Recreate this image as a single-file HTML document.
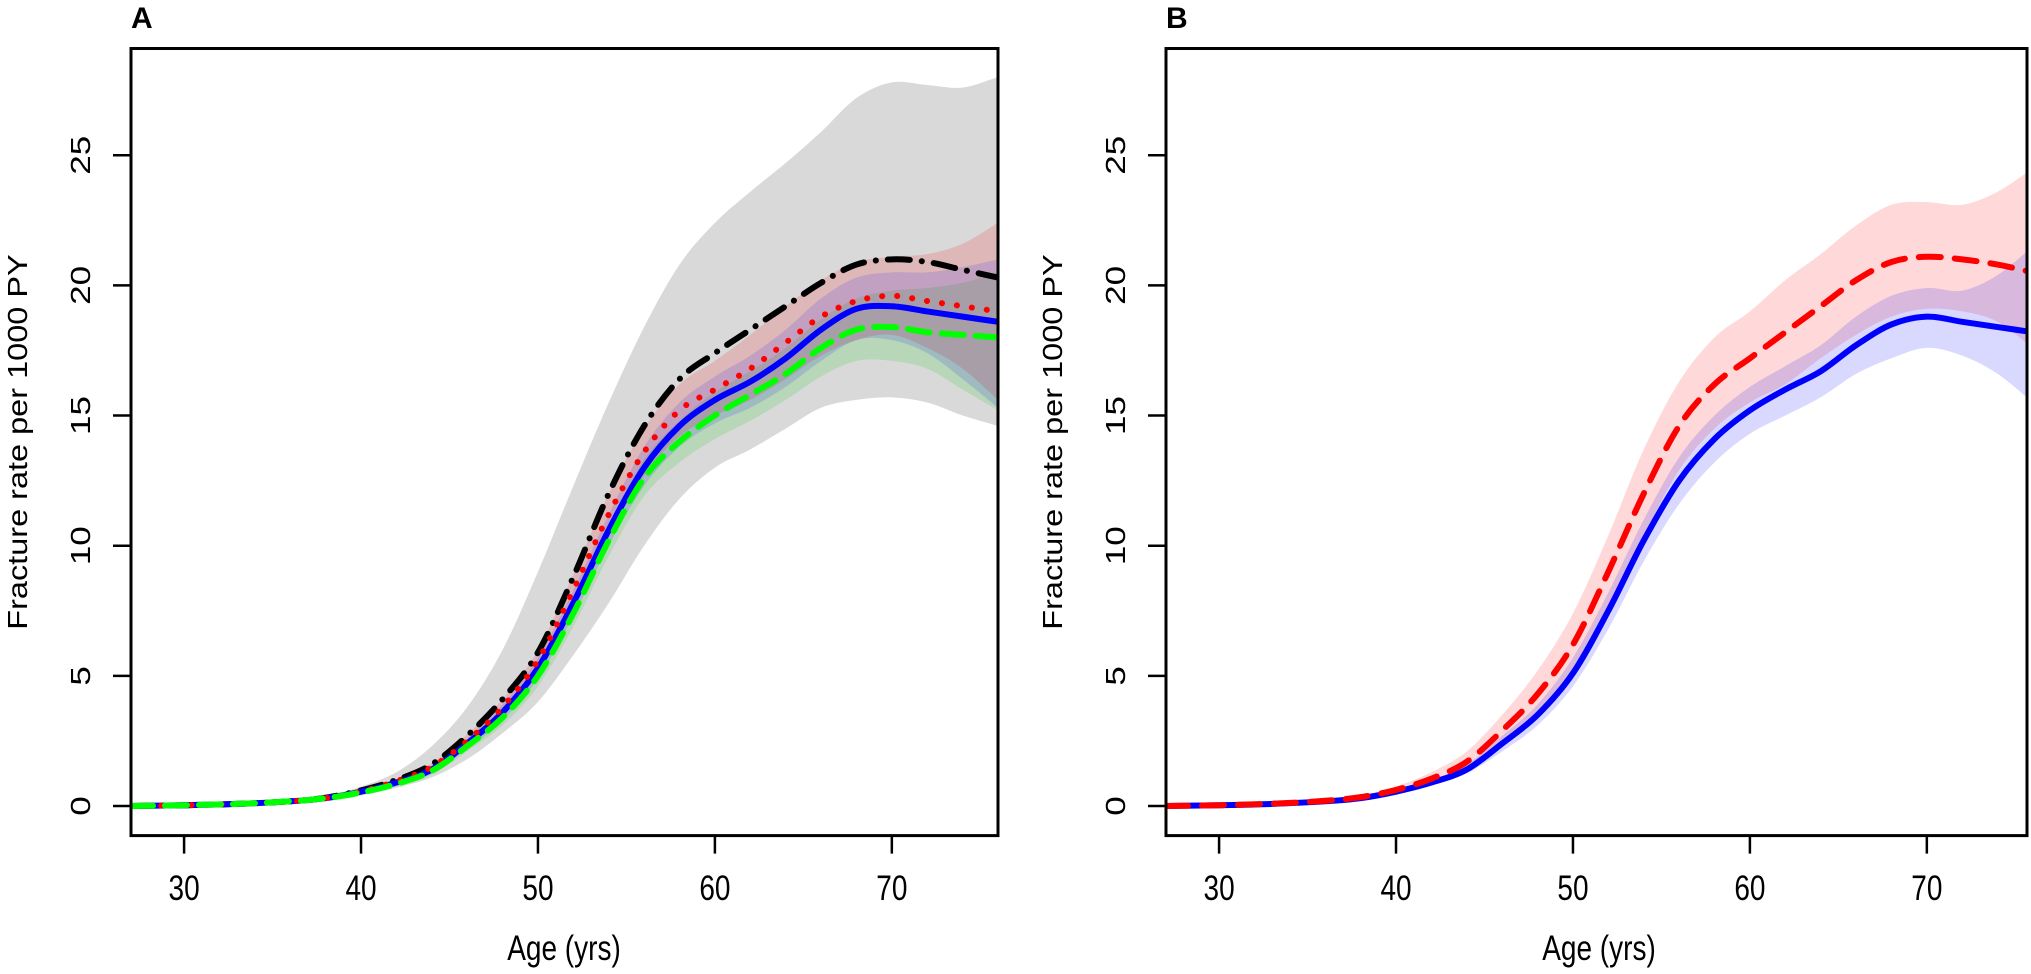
<!DOCTYPE html>
<html><head><meta charset="utf-8"><style>
html,body{margin:0;padding:0;background:#fff;}
svg{display:block;font-family:"Liberation Sans",Arial,sans-serif;}
</style></head><body>
<svg id="chart" width="2031" height="974" viewBox="0 0 2031 974" xmlns="http://www.w3.org/2000/svg"></svg>
<script>
const ages = [27,30,33,36,38,40,42,44,46,48,50,52,54,56,58,60,62,64,66,68,70,72,74,76];
const xTicks = [30,40,50,60,70];
const yTicks = [0,5,10,15,20,25];
// Panel A
const aBlue  = [0,0.03,0.08,0.18,0.3,0.55,0.9,1.4,2.4,3.6,5.3,7.8,10.6,13.0,14.6,15.6,16.3,17.2,18.3,19.1,19.2,19.0,18.8,18.6];
const aRed   = [0,0.03,0.08,0.18,0.3,0.56,0.95,1.5,2.5,3.8,5.6,8.3,11.2,13.6,15.2,16.0,16.8,17.8,18.8,19.4,19.6,19.4,19.2,19.0];
const aBlack = [0,0.03,0.08,0.18,0.32,0.6,1.0,1.6,2.7,4.1,5.9,8.8,12.0,14.6,16.4,17.4,18.3,19.2,20.1,20.8,21.0,20.9,20.6,20.3];
const aGreen = [0,0.03,0.08,0.18,0.3,0.52,0.85,1.35,2.3,3.4,5.0,7.4,10.2,12.6,14.0,15.0,15.8,16.6,17.6,18.3,18.4,18.2,18.1,18.0];
const aGreyUp = [0.02,0.06,0.13,0.25,0.4,0.75,1.3,2.3,3.8,6.0,9.0,12.3,15.5,18.4,20.8,22.4,23.6,24.7,25.9,27.2,27.8,27.7,27.6,28.0];
const aGreyLo = [0,0.01,0.04,0.12,0.22,0.4,0.7,1.1,1.8,2.8,4.0,5.8,7.8,10.0,11.8,13.0,13.7,14.5,15.3,15.6,15.7,15.5,15.0,14.6];
const aRedUp = [0,0.04,0.1,0.2,0.34,0.62,1.05,1.65,2.75,4.1,6.0,8.9,12.0,14.5,16.2,17.1,18.1,19.2,20.2,20.9,21.1,21.2,21.6,22.4];
const aRedLo = [0,0.02,0.06,0.16,0.27,0.5,0.85,1.35,2.25,3.5,5.2,7.7,10.4,12.7,14.2,15.0,15.6,16.4,17.3,17.9,18.1,17.6,16.8,15.6];
const aBlueUp = [0,0.04,0.1,0.2,0.33,0.6,1.0,1.55,2.6,3.9,5.7,8.3,11.2,13.8,15.5,16.5,17.3,18.3,19.5,20.3,20.5,20.5,20.7,21.0];
const aBlueLo = [0,0.02,0.06,0.16,0.27,0.5,0.8,1.25,2.2,3.3,4.9,7.3,10.0,12.3,13.8,14.7,15.3,16.1,17.1,17.9,17.9,17.4,16.4,15.3];
const aGreenUp = [0,0.04,0.1,0.2,0.33,0.57,0.95,1.5,2.5,3.7,5.4,7.9,10.8,13.3,14.8,15.9,16.7,17.6,18.7,19.5,19.8,19.9,20.1,20.5];
const aGreenLo = [0,0.02,0.06,0.16,0.26,0.47,0.75,1.2,2.1,3.1,4.6,6.9,9.6,11.9,13.2,14.1,14.8,15.6,16.5,17.1,17.1,16.8,16.0,15.2];
// Panel B
const bBlue = [0,0.03,0.08,0.18,0.3,0.55,0.9,1.4,2.4,3.5,5.1,7.5,10.2,12.5,14.1,15.2,16.0,16.7,17.7,18.5,18.8,18.6,18.4,18.2];
const bRed  = [0,0.03,0.09,0.2,0.34,0.62,1.05,1.7,2.9,4.3,6.2,9.0,12.0,14.6,16.2,17.2,18.2,19.2,20.2,20.9,21.1,21.0,20.8,20.5];
const bRedUp = [0.01,0.05,0.12,0.25,0.4,0.75,1.3,2.1,3.5,5.2,7.4,10.4,13.7,16.3,18.0,19.0,20.2,21.2,22.3,23.1,23.2,23.1,23.6,24.5];
const bRedLo = [0,0.02,0.06,0.15,0.27,0.5,0.85,1.35,2.4,3.6,5.2,7.7,10.4,12.9,14.5,15.5,16.2,17.2,18.1,18.8,19.1,19.0,18.6,17.6];
const bBlueUp = [0,0.04,0.1,0.21,0.34,0.62,1.0,1.6,2.7,3.9,5.7,8.2,11.0,13.4,15.0,16.1,16.9,17.7,18.8,19.6,19.9,19.8,20.4,21.5];
const bBlueLo = [0,0.02,0.06,0.15,0.26,0.48,0.8,1.25,2.1,3.1,4.6,6.8,9.4,11.6,13.2,14.3,15.0,15.7,16.6,17.2,17.6,17.3,16.6,15.5];

const NS="http://www.w3.org/2000/svg";
const svg=document.getElementById('chart');
function mk(tag,attrs,parent){const e=document.createElementNS(NS,tag);for(const k in attrs)e.setAttribute(k,attrs[k]);(parent||svg).appendChild(e);return e;}

function smoothPts(pts,move){
  let d=move?`M${pts[0][0]},${pts[0][1]}`:`L${pts[0][0]},${pts[0][1]}`;
  for(let i=0;i<pts.length-1;i++){
    const p0=pts[Math.max(0,i-1)],p1=pts[i],p2=pts[i+1],p3=pts[Math.min(pts.length-1,i+2)];
    const h1=(p2[0]-p1[0])/(p2[0]-p0[0]||1), h2=(p2[0]-p1[0])/(p3[0]-p1[0]||1);
    const c1=[p1[0]+(p2[0]-p0[0])*h1/3,p1[1]+(p2[1]-p0[1])*h1/3];
    const c2=[p2[0]-(p3[0]-p1[0])*h2/3,p2[1]-(p3[1]-p1[1])*h2/3];
    d+=`C${c1[0]},${c1[1]} ${c2[0]},${c2[1]} ${p2[0]},${p2[1]}`;
  }
  return d;
}

const FS=28, SY=1.25, SYT=1.16;
function panel(p){
  const W=p.width, x0=p.left, top=48.5, bot=835.6;
  const xs=a=>x0+(a-27)*(867/49);
  const ys=v=>806-v*26.03;
  const g=mk('g',{});
  
  
  const cid='clip'+p.name;
  const cp=mk('clipPath',{id:cid},g);mk('rect',{x:x0,y:top,width:W,height:bot-top},cp);
  const plot=mk('g',{'clip-path':`url(#${cid})`},g);
  p.bands.forEach(b=>{
    const up=ages.map((a,i)=>[xs(a),ys(b.up[i])]);
    const lo=ages.map((a,i)=>[xs(a),ys(b.lo[i])]).reverse();
    const e=mk('path',{d:smoothPts(up,true)+smoothPts(lo,false)+'Z',fill:b.fill,stroke:'none'},plot);
    
    
  });
  p.lines.forEach(l=>{
    const pts=ages.map((a,i)=>[xs(a),ys(l.v[i])]);
    const e=mk('path',{d:smoothPts(pts,true),fill:'none',stroke:l.color,'stroke-width':6,'stroke-linecap':'round','stroke-dasharray':l.dash||'none'},plot);
    
    
  });
  const fr=mk('rect',{x:x0,y:top,width:W,height:bot-top,fill:'none',stroke:'#000','stroke-width':3},g);
  
  
  xTicks.forEach(t=>{
    mk('line',{x1:xs(t),x2:xs(t),y1:bot,y2:bot+18,stroke:'#000','stroke-width':2.5},g);
    const tx=mk('text',{x:0,y:0,'font-size':FS,'text-anchor':'middle',transform:`translate(${xs(t)},${900}) scale(1,${SY})`},g);tx.textContent=t;
    
    
  });
  yTicks.forEach(t=>{
    mk('line',{x1:x0-18,x2:x0,y1:ys(t),y2:ys(t),stroke:'#000','stroke-width':2.5},g);
    const tx=mk('text',{x:0,y:0,'font-size':FS,'text-anchor':'middle',transform:`translate(${x0-41},${ys(t)}) scale(1,${SY}) rotate(-90)`},g);tx.textContent=t;
    
    
  });
  const xl=mk('text',{x:0,y:0,'font-size':FS,'text-anchor':'middle',transform:`translate(${x0+433},${960}) scale(1,${SY})`},g);xl.textContent='Age (yrs)';
  
  
  const yl=mk('text',{x:0,y:0,'font-size':FS,'text-anchor':'middle',transform:`translate(${x0-104},${(top+bot)/2}) scale(1,${SYT}) rotate(-90)`},g);yl.textContent='Fracture rate per 1000 PY';
  
  
  const tl=mk('text',{x:x0,y:28,'font-size':30,'font-weight':'bold'},g);tl.textContent=p.label;
  
  
}

panel({name:'panel-a',left:131,width:867,label:'A',
  bands:[
    {name:'grey-ci-band',up:aGreyUp,lo:aGreyLo,fill:'rgba(170,170,170,0.45)'},
    {name:'green-ci-band',up:aGreenUp,lo:aGreenLo,fill:'rgba(0,200,0,0.15)'},
    {name:'red-ci-band',up:aRedUp,lo:aRedLo,fill:'rgba(255,0,0,0.15)'},
    {name:'blue-ci-band',up:aBlueUp,lo:aBlueLo,fill:'rgba(0,0,255,0.13)'}
  ],
  lines:[
    {name:'black-dashdot-line',v:aBlack,color:'#000',dash:'22 12 0.1 12'},
    {name:'blue-solid-line',v:aBlue,color:'#0000ff'},
    {name:'red-dotted-line',v:aRed,color:'#ff0000',dash:'0.1 15'},
    {name:'green-dashed-line',v:aGreen,color:'#00ff00',dash:'22 12'}
  ]});
panel({name:'panel-b',left:1166,width:861,label:'B',
  bands:[
    {name:'red-ci-band',up:bRedUp,lo:bRedLo,fill:'rgba(255,0,0,0.15)'},
    {name:'blue-ci-band',up:bBlueUp,lo:bBlueLo,fill:'rgba(0,0,255,0.15)'}
  ],
  lines:[
    {name:'blue-solid-line',v:bBlue,color:'#0000ff'},
    {name:'red-dashed-line',v:bRed,color:'#ff0000',dash:'22 14'}
  ]});
</script>
</body></html>
